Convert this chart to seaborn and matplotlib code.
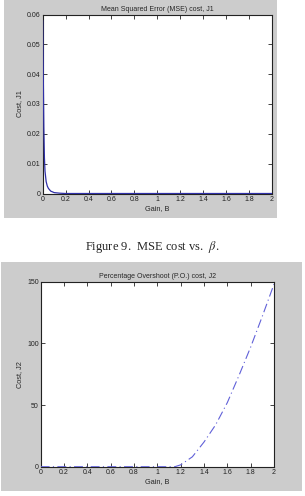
import numpy as np
import pandas as pd
import seaborn as sns
from matplotlib import pyplot as plt
from matplotlib.patches import Rectangle

# MSE cost J1 vs gain
gain_j1 = [0, 0.005, 0.01, 0.015, 0.02, 0.03, 0.04, 0.05, 0.07, 0.1, 0.15, 0.2, 0.5, 1.0, 1.5, 2.0]
cost_j1 = [0.058, 0.040, 0.022, 0.012, 0.0075, 0.004, 0.0025, 0.0017, 0.0008, 0.0003, 0.0001, 0, 0, 0, 0, 0]

# P.O. cost J2 vs gain
gain_j2 = [0, 0.2, 0.4, 0.6, 0.8, 1.0, 1.15, 1.2, 1.3, 1.4, 1.5, 1.6, 1.7, 1.8, 1.9, 2.0]
cost_j2 = [0, 0, 0, 0, 0, 0, 0, 1.5, 8, 20, 34, 52, 74, 97, 122, 148]

x_ticks = [0, 0.2, 0.4, 0.6, 0.8, 1, 1.2, 1.4, 1.6, 1.8, 2]
x_tick_labels = ['0', '0.2', '0.4', '0.6', '0.8', '1', '1.2', '1.4', '1.6', '1.8', '2']
j1_ticks = [0, 0.01, 0.02, 0.03, 0.04, 0.05, 0.06]
j2_ticks = [0, 50, 100, 150]

sns.set_style("ticks")
plt.rcParams['font.family'] = ['Liberation Sans', 'DejaVu Sans']
plt.rcParams['mathtext.fontset'] = 'stix'

W, H = 305, 496
fig = plt.figure(figsize=(W / 100, H / 100), dpi=100)
fig.patch.set_facecolor('white')

def px_rect(x0, y0, x1, y1):
    # pixel box (top-left origin) -> figure fraction
    return [x0 / W, 1 - y1 / H, (x1 - x0) / W, (y1 - y0) / H]

grey = '#cccccc'
for box in [(4, 0, 277, 218), (1, 262, 302, 491)]:
    r = px_rect(*box)
    fig.patches.append(Rectangle((r[0], r[1]), r[2], r[3], transform=fig.transFigure,
                                 facecolor=grey, edgecolor='none', zorder=-5))

def style_axes(ax, yticks, title, ylabel):
    ax.set_facecolor('white')
    ax.set_xlim(0, 2)
    ax.set_ylim(yticks[0], yticks[-1])
    ax.set_xticks(x_ticks)
    ax.set_xticklabels(x_tick_labels)
    ax.set_yticks(yticks)
    ax.set_yticklabels([f'{t:g}' for t in yticks])
    ax.tick_params(direction='in', length=3, width=0.6, labelsize=5, pad=1.5,
                   top=True, right=True, colors='#222222')
    for s in ax.spines.values():
        s.set_visible(True)
        s.set_linewidth(0.8)
        s.set_color('#222222')
    ax.set_title(title, fontsize=5, pad=2.5)
    ax.set_xlabel('Gain, B', fontsize=5.3, labelpad=1.5)
    ax.set_ylabel(ylabel, fontsize=5.3, labelpad=3)

ax1 = fig.add_axes(px_rect(42.7, 14.5, 272, 193.5))
sns.lineplot(x=gain_j1, y=cost_j1, ax=ax1, color='#3030a8', linewidth=0.9)
ax1.lines[0].set_zorder(3)
style_axes(ax1, j1_ticks, 'Mean Squared Error (MSE) cost, J1', 'Cost, J1')

ax2 = fig.add_axes(px_rect(40.7, 281.7, 274, 466.7))
sns.lineplot(x=gain_j2, y=cost_j2, ax=ax2, color='#6060d8', linewidth=0.8)
ax2.lines[0].set_linestyle((0, (8, 3, 1, 3)))
ax2.lines[0].set_zorder(3)
style_axes(ax2, j2_ticks, 'Percentage Overshoot (P.O.) cost, J2', 'Cost, J2')

fig.text(0.5, 1 - 247 / H, r'Figure 9.  MSE cost vs.  $\beta$.', ha='center', va='center',
         fontsize=9, family=['Liberation Serif', 'DejaVu Serif'])

fig.savefig('out.png', dpi=100)
